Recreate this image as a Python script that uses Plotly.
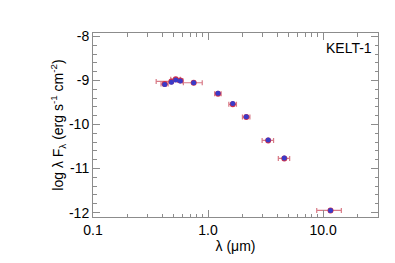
import plotly.graph_objects as go

wavelength = [0.42, 0.48, 0.524, 0.574, 0.75, 1.22, 1.64, 2.15, 3.33, 4.6, 11.6]
wl_err = [0.03, 0.126, 0.05, 0.03, 0.14, 0.08, 0.125, 0.16, 0.38, 0.52, 2.8]
obs_flux = [-9.08, -9.02, -8.97, -9.00, -9.05, -9.30, -9.54, -9.83, -10.36, -10.77, -11.95]
model_flux = [-9.09, -9.04, -8.99, -9.01, -9.05, -9.29, -9.52, -9.82, -10.35, -10.76, -11.95]

x_ticks = [0.1, 1.0, 10.0]
x_tick_labels = ["0.1", "1.0", "10.0"]
y_ticks = [-8, -9, -10, -11, -12]
y_tick_labels = ["-8", "-9", "-10", "-11", "-12"]

minor_x = [0.2, 0.3, 0.4, 0.5, 0.6, 0.7, 0.8, 0.9, 2, 3, 4, 5, 6, 7, 8, 9, 20, 30]

fig = go.Figure()
fig.add_trace(go.Scatter(
    x=wavelength, y=obs_flux, mode="markers",
    marker=dict(color="#d0304a", size=6),
    error_x=dict(type="data", array=wl_err, color="#d87a86", thickness=1.2, width=2.5),
    showlegend=False))
fig.add_trace(go.Scatter(
    x=wavelength, y=model_flux, mode="markers",
    marker=dict(color="#3a3ac8", size=5),
    showlegend=False))

axis_common = dict(showline=True, linecolor="#8c8c8c", linewidth=1, mirror="allticks",
                   ticks="inside", tickcolor="#8c8c8c", showgrid=False, zeroline=False,
                   tickfont=dict(family="Liberation Sans, Arial", size=14, color="black"))

fig.update_xaxes(type="log", range=[-1, 1.477], tickvals=x_ticks, ticktext=x_tick_labels,
                 ticklen=7, minor=dict(tickvals=minor_x, ticks="inside", ticklen=3.5, tickcolor="#8c8c8c"),
                 title=dict(text="λ (μm)", font=dict(family="Liberation Sans, Arial", size=14, color="black"), standoff=0),
                 **axis_common)
fig.update_yaxes(range=[-12.1, -7.92], tickvals=y_ticks, ticktext=y_tick_labels,
                 ticklen=7, minor=dict(dtick=0.2, ticks="inside", ticklen=3.5, tickcolor="#8c8c8c"),
                 title=dict(text="log λ F<sub>λ</sub> (erg s<sup>-1</sup> cm<sup>-2</sup>)",
                            font=dict(family="Liberation Sans, Arial", size=14, color="black"), standoff=2),
                 **axis_common)

fig.add_annotation(text="KELT-1", xref="paper", yref="paper", x=0.985, y=0.92,
                   xanchor="right", yanchor="middle", showarrow=False,
                   font=dict(family="Liberation Sans, Arial", size=14, color="black"))

fig.update_layout(width=395, height=263, margin=dict(l=85, r=25, t=25, b=54),
                  paper_bgcolor="white", plot_bgcolor="white")
fig.write_html("out.html")
